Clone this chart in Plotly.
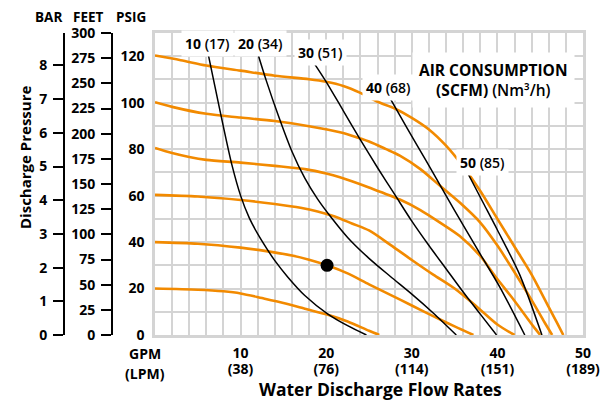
import plotly.graph_objects as go

# ---------------- data (GPM vs PSIG) ----------------
p20_gpm = [0, 5, 8, 10, 12.5, 15, 17.5, 20, 22.5, 25, 26.2]
p20_psi = [20, 19.5, 18.8, 17.9, 15.9, 13.8, 11.3, 8.9, 5.8, 1.8, 0]

p40_gpm = [0, 5, 10, 13, 16, 18, 20.1, 22.5, 25, 27.5, 30, 32.5, 35, 37.2]
p40_psi = [40, 39.3, 37.6, 36.1, 34.2, 32.4, 30, 26.5, 21.8, 17.3, 12.7, 8.1, 3.7, 0]

p60_gpm = [0, 5, 10, 14, 17, 19, 21, 23, 25, 27.5, 30, 32.5, 35, 37.5, 40, 42]
p60_psi = [60.3, 59.6, 58.1, 56.4, 54.8, 53.2, 51, 48, 45, 38.8, 32.3, 26, 20, 12.5, 4.5, 0]

p80_gpm = [0, 2, 4, 6, 10, 14, 17.7, 20, 21.6, 23, 25, 28.6, 31, 33.3, 35.6, 38, 39.9, 41.9, 44.2, 45]
p80_psi = [80.5, 78.3, 76.6, 75.4, 74.2, 72.8, 71.3, 69.5, 67.9, 66.2, 63.5, 58.3, 53.8, 48.4, 42.6, 34, 24.5, 15.2, 3.7, 0]

p100_gpm = [0, 2, 6, 10, 14, 18, 21.6, 23, 25, 27, 28.6, 31, 33.3, 35.6, 38, 40, 42, 44, 45.5, 46.4]
p100_psi = [100.2, 98.2, 95.2, 93.6, 92.1, 89.9, 87.3, 85.8, 83.3, 80, 77.2, 71.4, 64.2, 57, 48.4, 38.5, 27, 15, 5.5, 0]

p120_gpm = [0, 3, 6, 10, 14, 18, 20, 22, 24, 26, 28, 30, 32, 34, 36, 38, 40, 42, 44, 46, 47, 47.7]
p120_psi = [120.3, 118.3, 116, 113.8, 111.6, 110.1, 109, 107.2, 104.2, 100.4, 97.5, 93.5, 88.5, 81.5, 72.5, 62, 50, 38, 26, 12, 5, 0]

air10_gpm = [6, 7, 8, 9, 10, 11, 12, 13, 14, 15.5, 17.5, 20.2, 22.5, 24.7]
air10_psi = [124.7, 107, 89.5, 73, 60, 50.5, 43.5, 37.5, 32, 25, 17, 9, 4, 0]

air20_gpm = [11.9, 13, 14.5, 16, 17.5, 19, 20.5, 22.5, 25, 27.5, 30, 32.5, 35.2]
air20_psi = [122.5, 109.5, 93.5, 79, 67.5, 58.5, 51, 42, 33, 25.2, 17.6, 9.5, 0]

air30_gpm = [18.5, 20, 22, 24, 26, 28, 30, 32, 34, 36, 38, 39.9]
air30_psi = [117.5, 109, 96.5, 84, 72, 60.5, 49, 38.5, 28.5, 18.5, 9, 0]

air40_gpm = [27.5, 29.5, 31.7, 34, 36, 38, 40.3, 43.2]
air40_psi = [101.6, 88.7, 74.8, 60, 47.3, 34.8, 20.5, 0]

air50_gpm = [36.6, 38.4, 40, 42.6, 45.2]
air50_psi = [69.2, 56.5, 45.2, 26, 0]

point_gpm = [20.1]
point_psi = [30]

pressure_series = [
    (p20_gpm, p20_psi), (p40_gpm, p40_psi), (p60_gpm, p60_psi),
    (p80_gpm, p80_psi), (p100_gpm, p100_psi), (p120_gpm, p120_psi),
]
air_series = [
    (air10_gpm, air10_psi), (air20_gpm, air20_psi), (air30_gpm, air30_psi),
    (air40_gpm, air40_psi), (air50_gpm, air50_psi),
]
air_labels = ["10", "20", "30", "40", "50"]
air_labels_nm3 = ["(17)", "(34)", "(51)", "(68)", "(85)"]
air_label_pos = [(6.1, 125.3), (12.3, 125.3), (19.3, 121.8), (27.3, 106.4), (38.3, 74.4)]

gpm_ticks = [10, 20, 30, 40, 50]
lpm_ticks = ["(38)", "(76)", "(114)", "(151)", "(189)"]
psig_ticks = [0, 20, 40, 60, 80, 100, 120]
bar_ticks = [0, 1, 2, 3, 4, 5, 6, 7, 8]
feet_ticks = [0, 25, 50, 75, 100, 125, 150, 175, 200, 225, 250, 275, 300]

PSI_MAX = 130
PSI_PER_BAR = 14.5038
FEET_PER_PSI = 300 / 130

ORANGE = "#F28A00"
GRID = "#D4D4D4"
FONT = "Open Sans"

fig = go.Figure()

for gx, gy in pressure_series:
    fig.add_trace(go.Scatter(x=gx, y=gy, mode="lines",
                             line=dict(color=ORANGE, width=2.6, shape="spline", smoothing=0.8),
                             hoverinfo="skip", showlegend=False))
for gx, gy in air_series:
    fig.add_trace(go.Scatter(x=gx, y=gy, mode="lines",
                             line=dict(color="black", width=1.5, shape="spline", smoothing=0.8),
                             hoverinfo="skip", showlegend=False))
fig.add_trace(go.Scatter(x=point_gpm, y=point_psi, mode="markers",
                         marker=dict(color="black", size=13),
                         hoverinfo="skip", showlegend=False))

# invisible traces to activate the BAR / FEET / LPM axes
fig.add_trace(go.Scatter(x=[0, 0], y=[0, PSI_MAX / PSI_PER_BAR], yaxis="y2", mode="lines",
                         line=dict(width=0), opacity=0, hoverinfo="skip", showlegend=False))
fig.add_trace(go.Scatter(x=[0, 0], y=[0, PSI_MAX * FEET_PER_PSI], yaxis="y3", mode="lines",
                         line=dict(width=0), opacity=0, hoverinfo="skip", showlegend=False))
fig.add_trace(go.Scatter(x=[0, 50], y=[0, 0], xaxis="x2", mode="lines",
                         line=dict(width=0), opacity=0, hoverinfo="skip", showlegend=False))

# page has an 8px body margin: work in page pixels and convert
OFF = 8
W, H = 612 - OFF, 401 - OFF
ML, MR, MT, MB = 0, 29, 33 - OFF, 66
PW = W - ML - MR
PH = H - MT - MB


def px(xp):
    return (xp - OFF - ML) / PW


def py(yp):
    return (H - MB - (yp - OFF)) / PH


tickfont = dict(family=FONT, size=14, color="black", weight="bold")

fig.update_layout(
    width=W, height=H,
    margin=dict(l=ML, r=MR, t=MT, b=MB, autoexpand=False),
    plot_bgcolor="white", paper_bgcolor="white",
    xaxis=dict(
        domain=[px(155), 1], range=[0, 50],
        tickvals=gpm_ticks, ticktext=[str(g) for g in gpm_ticks],
        tickfont=tickfont, ticks="", ticklabelstandoff=3,
        showgrid=True, gridcolor=GRID, gridwidth=1.6,
        minor=dict(dtick=2, showgrid=True, gridcolor=GRID, gridwidth=1.6),
        zeroline=False, showline=True, linecolor=GRID, linewidth=2.5, mirror=True,
    ),
    xaxis2=dict(
        overlaying="x", anchor="y", side="bottom", matches="x",
        domain=[px(155), 1], range=[0, 50],
        tickvals=gpm_ticks, ticktext=lpm_ticks,
        tickfont=tickfont, ticks="", ticklabelstandoff=24,
        showgrid=False, zeroline=False, showline=False,
    ),
    yaxis=dict(
        range=[0, PSI_MAX], tickvals=psig_ticks, tickfont=tickfont,
        ticks="", ticklabelstandoff=5,
        showgrid=True, gridcolor=GRID, gridwidth=1.6,
        minor=dict(dtick=10, showgrid=True, gridcolor=GRID, gridwidth=1.6),
        zeroline=False, showline=True, linecolor=GRID, linewidth=2.5, mirror=True,
    ),
    yaxis2=dict(
        overlaying="y", anchor="free", position=px(64), side="left",
        range=[0, PSI_MAX / PSI_PER_BAR], tickvals=bar_ticks, tickfont=tickfont,
        ticks="outside", ticklen=10, tickwidth=2, tickcolor="black", ticklabelstandoff=3,
        showline=True, linecolor="black", linewidth=2,
        showgrid=False, zeroline=False,
    ),
    yaxis3=dict(
        overlaying="y", anchor="free", position=px(112), side="left",
        range=[0, PSI_MAX * FEET_PER_PSI], tickvals=feet_ticks, tickfont=tickfont,
        ticks="outside", ticklen=10, tickwidth=2, tickcolor="black", ticklabelstandoff=3,
        showline=True, linecolor="black", linewidth=2,
        showgrid=False, zeroline=False,
    ),
)

ann = []
for lab, lab2, (ax_, ay_) in zip(air_labels, air_labels_nm3, air_label_pos):
    ann.append(dict(x=ax_, y=ay_, xref="x", yref="y", text=f"<b>{lab}</b> {lab2}",
                    xanchor="center", yanchor="middle",
                    showarrow=False, bgcolor="white", borderpad=3,
                    font=dict(family=FONT, size=14, color="black", weight=600)))
ann.append(dict(x=39.6, y=109.7, xref="x", yref="y",
                text="<b>AIR CONSUMPTION</b><br><b>(SCFM)</b> (Nm³/h)",
                xanchor="center", yanchor="middle",
                showarrow=False, bgcolor="white", borderpad=6,
                font=dict(family=FONT, size=15.5, color="black", weight=600)))


def page_text(txt, xx, yy, size, angle=0):
    return dict(x=px(xx), y=py(yy), xref="paper", yref="paper", text=f"<b>{txt}</b>",
                xanchor="center", yanchor="middle", textangle=angle,
                showarrow=False, font=dict(family=FONT, size=size, color="black"))


for txt, xx in [("BAR", 48), ("FEET", 88), ("PSIG", 131)]:
    ann.append(page_text(txt, xx, 17, 13.5))
ann.append(page_text("GPM", 145, 353, 14))
ann.append(page_text("(LPM)", 145, 373, 14))
ann.append(page_text("Water Discharge Flow Rates", 380, 389, 17.5))
ann.append(page_text("Discharge Pressure", 25, 158, 15, -90))
fig.update_layout(annotations=ann)

fig.write_html("out.html")
